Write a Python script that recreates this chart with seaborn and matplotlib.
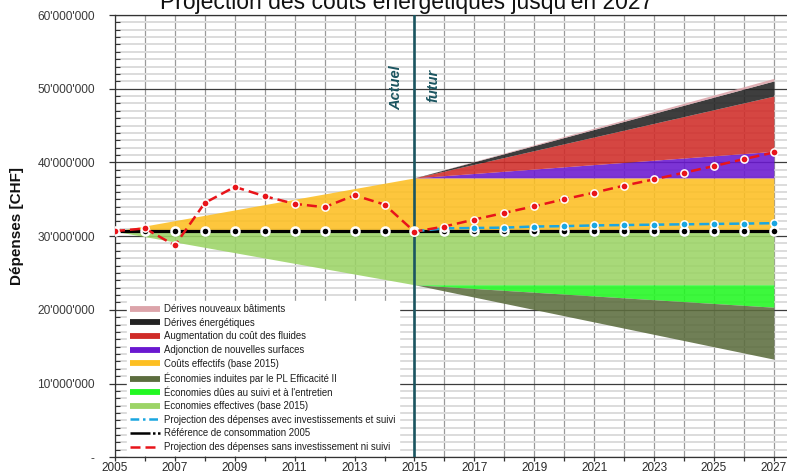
import matplotlib
matplotlib.use("Agg")
import matplotlib.pyplot as plt
from matplotlib.lines import Line2D
from matplotlib.ticker import FuncFormatter, MultipleLocator
import pandas as pd
import seaborn as sns

# ---------------------------------------------------------------- data (CHF)
years = list(range(2005, 2028))
forecast_years = list(range(2015, 2028))

reference_2005 = [30.65e6, 30.65e6, 30.65e6, 30.65e6, 30.65e6, 30.65e6,
                  30.65e6, 30.65e6, 30.65e6, 30.65e6, 30.65e6, 30.65e6,
                  30.65e6, 30.65e6, 30.65e6, 30.65e6, 30.65e6, 30.65e6,
                  30.65e6, 30.65e6, 30.65e6, 30.65e6, 30.65e6]

without_investment = [30.68e6, 31.04e6, 28.74e6, 34.51e6, 36.68e6, 35.41e6,
                      34.38e6, 33.92e6, 35.54e6, 34.28e6, 30.60e6, 31.30e6,
                      32.25e6, 33.15e6, 34.05e6, 35.00e6, 35.90e6, 36.85e6,
                      37.70e6, 38.60e6, 39.50e6, 40.45e6, 41.35e6]

with_investment = [30.65e6, 31.05e6, 31.10e6, 31.15e6, 31.30e6, 31.35e6,
                   31.45e6, 31.50e6, 31.55e6, 31.60e6, 31.65e6, 31.70e6,
                   31.75e6]

# envelope of effective costs / savings (vertices of the fan)
fan_years = [2005, 2015, 2027]
fan_baseline = [30.65e6, 30.65e6, 30.65e6]
effective_costs_top = [30.65e6, 37.9e6, 37.9e6]
effective_savings_bottom = [30.65e6, 23.4e6, 23.4e6]

# cumulative boundaries of the projected drifts and savings
drift_years = [2015, 2027]
costs_2015_level = [37.9e6, 37.9e6]
new_surfaces_top = [37.9e6, 41.5e6]
fluid_cost_top = [37.9e6, 49.0e6]
energy_drift_top = [37.9e6, 51.05e6]
new_buildings_top = [37.9e6, 51.4e6]
savings_2015_level = [23.4e6, 23.4e6]
maintenance_savings_bottom = [23.4e6, 20.35e6]
pl_savings_bottom = [23.4e6, 13.3e6]

title = "Projection des coûts énergétiques jusqu'en 2027"
labels = [
    "Dérives nouveaux bâtiments",
    "Dérives énergétiques",
    "Augmentation du coût des fluides",
    "Adjonction de nouvelles surfaces",
    "Coûts effectifs (base 2015)",
    "Économies induites par le PL Efficacité II",
    "Économies dûes au suivi et à l'entretien",
    "Economies effectives (base 2015)",
    "Projection des dépenses avec investissements et suivi",
    "Référence de consommation 2005",
    "Projection des dépenses sans investissement ni suivi",
]

# ---------------------------------------------------------------- style
sns.set_theme(style="white")
plt.rcParams["font.family"] = ["Liberation Sans", "DejaVu Sans"]

C_PINK = "#dca4aa"
C_BLACK = "#232323"
C_RED = "#d02c28"
C_PURPLE = "#6a18d0"
C_YELLOW = "#fdbf22"
C_OLIVE = "#5c6d3e"
C_BRIGHT = "#22f822"
C_LIGHT = "#9cd466"
C_BLUE_LINE = "#1aa6e0"
C_RED_LINE = "#e8141a"
C_TEAL = "#1b5560"
AREA_ALPHA = 0.88

fig = plt.figure(figsize=(7.87, 4.74), dpi=100)
ax = fig.add_axes([115 / 787, 1 - 457.2 / 474, 672 / 787, 442.2 / 474])
ax.set_facecolor("white")
ax.set_axisbelow(True)

# ---------------------------------------------------------------- areas
ax.fill_between(fan_years, fan_baseline, effective_costs_top,
                color=C_YELLOW, alpha=AREA_ALPHA, lw=0, zorder=1)
ax.fill_between(fan_years, effective_savings_bottom, fan_baseline,
                color=C_LIGHT, alpha=AREA_ALPHA, lw=0, zorder=1)
ax.fill_between(drift_years, costs_2015_level, new_surfaces_top,
                color=C_PURPLE, alpha=AREA_ALPHA, lw=0, zorder=1)
ax.fill_between(drift_years, new_surfaces_top, fluid_cost_top,
                color=C_RED, alpha=AREA_ALPHA, lw=0, zorder=1)
ax.fill_between(drift_years, fluid_cost_top, energy_drift_top,
                color=C_BLACK, alpha=AREA_ALPHA, lw=0, zorder=1)
ax.fill_between(drift_years, energy_drift_top, new_buildings_top,
                color=C_PINK, alpha=AREA_ALPHA, lw=0, zorder=1)
ax.fill_between(drift_years, maintenance_savings_bottom, savings_2015_level,
                color=C_BRIGHT, alpha=AREA_ALPHA, lw=0, zorder=1)
ax.fill_between(drift_years, pl_savings_bottom, maintenance_savings_bottom,
                color=C_OLIVE, alpha=AREA_ALPHA, lw=0, zorder=1)

# separation between past and forecast
ax.axvline(2015, color=C_TEAL, lw=1.9, zorder=3)
ax.text(2014.38, 50.2e6, "Actuel", rotation=90, ha="center", va="center",
        fontsize=10.5, fontweight="bold", fontstyle="italic", color=C_TEAL,
        zorder=3)
ax.text(2015.62, 50.4e6, "futur", rotation=90, ha="center", va="center",
        fontsize=10.5, fontweight="bold", fontstyle="italic", color=C_TEAL,
        zorder=3)

# ---------------------------------------------------------------- lines
ref_df = pd.DataFrame({"annee": years, "chf": reference_2005})
sns.lineplot(data=ref_df, x="annee", y="chf", ax=ax, color="black", lw=2.3,
             linestyle="-", marker="o", markersize=5.8,
             markerfacecolor="black", markeredgecolor="white",
             markeredgewidth=1.8, errorbar=None, zorder=4)

inv_df = pd.DataFrame({"annee": forecast_years, "chf": with_investment})
sns.lineplot(data=inv_df, x="annee", y="chf", ax=ax, color=C_BLUE_LINE,
             lw=1.8, linestyle=(0, (4, 2)), marker="o",
             markersize=5.2, markerfacecolor=C_BLUE_LINE,
             markeredgecolor="white", markeredgewidth=1.1, errorbar=None,
             zorder=5)

noinv_df = pd.DataFrame({"annee": years, "chf": without_investment})
sns.lineplot(data=noinv_df, x="annee", y="chf", ax=ax, color=C_RED_LINE,
             lw=1.8, linestyle=(0, (4, 2)), marker="o", markersize=5.2,
             markerfacecolor=C_RED_LINE, markeredgecolor="white",
             markeredgewidth=1.1, errorbar=None, zorder=6)

# ---------------------------------------------------------------- axes
ax.set_xlim(2005, 2027.44)
ax.set_ylim(0, 60e6)
ax.set_xlabel("")
ax.set_ylabel("")

ax.xaxis.set_major_locator(MultipleLocator(1))
ax.xaxis.set_major_formatter(
    FuncFormatter(lambda v, p: f"{int(round(v))}" if int(round(v)) % 2 == 1 else ""))
ax.yaxis.set_major_locator(MultipleLocator(10e6))
ax.yaxis.set_minor_locator(MultipleLocator(1e6))
ax.yaxis.set_major_formatter(
    FuncFormatter(lambda v, p: "-" if abs(v) < 1 else f"{int(round(v)):,}".replace(",", "'")))

ax.grid(which="minor", axis="y", color="#dcdcdc", lw=1.4, zorder=0)
ax.grid(which="major", axis="y", color="#3c3c3c", lw=0.9, zorder=0)
ax.grid(which="major", axis="x", color="#9a9a9a", lw=0.9, zorder=0)

ax.tick_params(axis="y", which="major", direction="out", length=4.5,
               width=0.9, color="#333333", labelsize=8.6,
               labelcolor="#3a3a3a", pad=10, left=True)
ax.tick_params(axis="y", which="minor", direction="in", length=3.5,
               width=0.8, color="#333333", left=True)
ax.tick_params(axis="x", which="major", direction="out", length=3,
               width=0.9, color="#333333", labelsize=8.5,
               labelcolor="#2a2a2a", pad=0.5, bottom=True)

for side in ("left", "bottom", "top"):
    ax.spines[side].set_visible(True)
    ax.spines[side].set_color("#333333")
    ax.spines[side].set_linewidth(0.9)
ax.spines["right"].set_visible(False)

# ---------------------------------------------------------------- legend
area_colors = [C_PINK, C_BLACK, C_RED, C_PURPLE, C_YELLOW, C_OLIVE,
               C_BRIGHT, C_LIGHT]
handles = [Line2D([], [], color=c, lw=4.2, solid_capstyle="butt", label=l)
           for c, l in zip(area_colors, labels[:8])]
handles.append(Line2D([], [], color=C_BLUE_LINE, lw=1.8,
                      linestyle=(0, (3.5, 1.5, 1, 1.5)), label=labels[8]))
handles.append(Line2D([], [], color="black", lw=1.8,
                      linestyle=(0, (8, 1, 1, 1)), label=labels[9]))
handles.append(Line2D([], [], color=C_RED_LINE, lw=1.8,
                      linestyle=(0, (4, 2)), label=labels[10]))

leg = ax.legend(handles=handles, loc="lower left",
                bbox_to_anchor=(0.018, 0.004), fontsize=6.9,
                handlelength=3.1, handletextpad=0.45, labelspacing=0.38,
                borderpad=0.35, borderaxespad=0, frameon=True, fancybox=False,
                framealpha=1, facecolor="white", edgecolor="white")
leg.set_zorder(10)
for t in leg.get_texts():
    t.set_color("#1e1e1e")

# ---------------------------------------------------------------- texts
fig.text(407 / 787, 1 - 8.5 / 474, title, ha="center", va="baseline",
         fontsize=16.5, color="#111111")
fig.text(17 / 787, 1 - 226 / 474, "Dépenses [CHF]", rotation=90,
         ha="center", va="center", fontsize=11, fontweight="bold",
         color="#111111")

fig.savefig("out.png", dpi=100)
